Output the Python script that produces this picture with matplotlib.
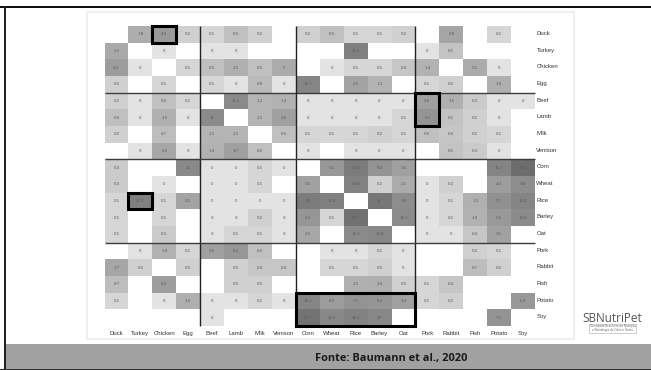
import numpy as np
import matplotlib
matplotlib.use("Agg")
import matplotlib.pyplot as plt
from matplotlib.patches import Rectangle
from matplotlib.colors import LinearSegmentedColormap

labels = ["Duck","Turkey","Chicken","Egg","Beef","Lamb","Milk","Venison","Corn","Wheat",
          "Rice","Barley","Oat","Pork","Rabbit","Fish","Potato","Soy"]
N = None
duck    = [N,1.8,4.9,0.2, 0.1,0.6,0.2,N, 0.2,0.6,0.1,0.1,0.2, N,2.8,N,0.1,N]
turkey  = [2.2,N,0,N, 0,0,N,N, N,N,21.5,N,N, 0,0.5,N,N,N]
chicken = [4.1,0,N,0.1, 0.6,1.5,0.6,2, N,0,0.1,0.1,0.4, 1.4,N,2.1,0,N]
egg     = [0.2,N,0.1,N, 0.1,0,0.8,0, 14.7,N,3.1,1.3,N, 0.1,0.2,N,1.6,N]
beef    = [0.2,0,0.6,0.1, N,11.6,1.2,1.4, 0,0,0,0,0, 3.6,1.5,0.3,0,0]
lamb    = [0.6,0,1.5,0, 11,N,1.2,3.6, 0,0,0,0,0.1, 6.7,0.5,0.2,0,N]
milk    = [0.2,N,0.7,N, 1.2,1.2,N,0.6, 0.1,0.1,0.1,0.2,0.1, 0.6,0.4,0.2,0.1,N]
venison = [N,0,2.5,0, 1.4,3.7,0.6,N, 0,N,0,0,0, N,0.5,0.3,0,N]
corn    = [0.3,N,N,12, 0,0,0.1,0, N,5.5,29.2,6.9,3.6, N,N,N,16.7,69.3]
wheat   = [0.3,N,0,N, 0,0,0.1,N, 3.5,N,19.6,0.2,2.1, 0,0.2,N,4.3,9.4]
rice    = [0.1,21.3,0.1,3.1, 0,0,0,0, 26,21.8,N,37,9.6, 0,0.1,1.5,7.7,15.2]
barley  = [0.1,N,0.1,N, 0,0,0.2,0, 6.2,0.1,53.7,N,10.1, 0,0.1,1.4,5.2,10.8]
oat     = [0.1,N,0.3,N, 0,0.1,0.1,0, 2.5,N,10.9,13.8,N, 0,0,0.4,3.5,N]
pork    = [N,0,1.4,0.1, 3.6,6.1,0.6,N, N,0,0,0.1,0, N,N,0.2,0.1,N]
rabbit  = [2.7,0.2,N,0.2, N,0.2,0.4,0.4, N,0.1,0.1,0.2,0, N,N,0.7,0.2,N]
fish    = [0.7,N,4.2,N, N,0.2,0.2,N, N,N,1.5,1.6,0.2, 0.1,0.4,N,N,N]
potato  = [0.1,N,0,1.6, 0,0,0.1,0, 14.2,4.5,7.1,6.3,3.4, 0.1,0.2,N,N,5.3]
soy     = [N,N,N,N, 0,N,N,N, 47.7,12.5,18.1,13,N, N,N,N,7.1,N]
rows = [duck,turkey,chicken,egg,beef,lamb,milk,venison,corn,wheat,rice,barley,oat,pork,rabbit,fish,potato,soy]
source = "Fonte: Baumann et al., 2020"

W, H = 651, 370
fig = plt.figure(figsize=(W/100, H/100), dpi=100, facecolor="white")

def frect(x0, y0, x1, y1, **kw):
    fig.add_artist(Rectangle((x0/W, 1-y1/H), (x1-x0)/W, (y1-y0)/H, transform=fig.transFigure, zorder=-1, **kw))

# slide furniture
frect(87, 12, 574, 338.5, facecolor="white", edgecolor="#efefef", linewidth=1.4)
frect(4, 344, 651, 369, facecolor="#a1a1a1", edgecolor="none")
frect(0, 6, 651, 8, facecolor="#111111", edgecolor="none")
frect(4, 6, 5.5, 370, facecolor="#222222", edgecolor="none")
frect(0, 369, 651, 370, facecolor="#333333", edgecolor="none")

# heatmap
gx0, gx1, gy0, gy1 = 104.5, 535.0, 26.0, 326.0
ax = fig.add_axes([gx0/W, 1-gy1/H, (gx1-gx0)/W, (gy1-gy0)/H], zorder=1)
ax.patch.set_alpha(0)
n = len(labels)
Z = np.array([[np.nan if v is None else v for v in r] for r in rows], dtype=float)
cmap = LinearSegmentedColormap.from_list("g", ["#e3e3e3", "#cdcdcd", "#adadad", "#8a8a8a", "#6d6d6d"])
def norm(v):
    return np.log10(v + 0.05)
C = (norm(Z) - norm(0)) / (norm(70) - norm(0))
ax.pcolormesh(np.arange(n+1), np.arange(n+1), np.ma.masked_invalid(C), cmap=cmap, vmin=0, vmax=1, linewidth=0)
ax.set_xlim(0, n); ax.set_ylim(n, 0)
ax.axis("off")
for i, r in enumerate(rows):
    for j, v in enumerate(r):
        if v is not None:
            ax.text(j+.5, i+.5, f"{v:g}", ha="center", va="center", fontsize=3.2, color="#5a5a5a",
                    family="Liberation Sans")

for p in (4, 8, 13):
    ax.plot([p, p], [0, n], color="#222222", lw=1.0, clip_on=False, solid_capstyle="butt")
    ax.plot([0, n], [p, p], color="#3c3c3c", lw=1.0, clip_on=False, solid_capstyle="butt")

# highlight boxes: (col, row, ncols, nrows)
for c, r_, w, h in [(2, 0, 1, 1), (13, 4, 1, 2), (1, 10, 1, 1), (8, 16, 5, 2)]:
    ax.add_patch(Rectangle((c, r_), w, h, fill=False, edgecolor="black", lw=2.2, clip_on=False, zorder=5))

for i, l in enumerate(labels):
    ax.text(n + .06, i + .45, l, ha="left", va="center", fontsize=4.3, color="#333333", clip_on=False,
            family="Liberation Sans")
    ax.text(i + .5, n + .48, l, ha="center", va="center", fontsize=4.3, color="#333333", clip_on=False,
            family="Liberation Sans")

fig.text(391/W, 1-359/H, source, ha="center", va="center", fontsize=7.9, fontweight="bold",
         family="Open Sans", color="#1a1a1a")

# logo
fig.text(612.5/W, 1-318/H, "SBNutriPet", ha="center", va="center", fontsize=8.5, color="#555555", family="Open Sans")
fig.text(612.5/W, 1-328.5/H, "Sociedade Brasileira de Nutrição\ne Nutrologia de Cães e Gatos", ha="center", va="center",
         fontsize=2.1, color="#666666", linespacing=1.0, bbox=dict(fc="white", ec="#aaaaaa", lw=.4, pad=.7))
frect(578.5, 316, 579.1, 324, facecolor="#999999", edgecolor="none")

fig.savefig("out.png", dpi=100)
